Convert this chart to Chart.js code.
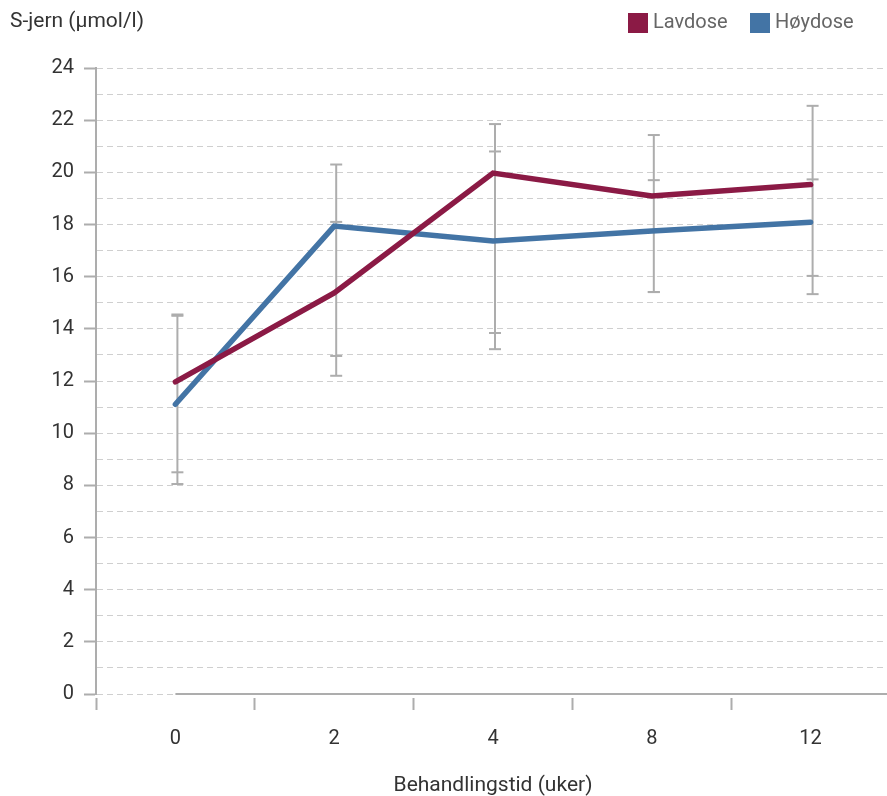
<!DOCTYPE html>
<html>
<head>
<meta charset="utf-8">
<script src="https://cdn.jsdelivr.net/npm/chart.js@4.4.1/dist/chart.umd.min.js"></script>
<style>
  html, body { margin: 0; padding: 0; background: #fff; overflow: hidden; }
  #wrap { position: relative; width: 890px; height: 796px; }
</style>
</head>
<body>
<div id="wrap"><canvas id="chart"></canvas></div>
<script>
const weeks = ["0", "2", "4", "8", "12"];

const lavdose = [11.97, 15.38, 19.97, 19.09, 19.53];
const hoydose = [11.11, 17.94, 17.37, 17.75, 18.09];

// error bar ends
const lavHigh = [14.5, 18.1, 21.85, 21.43, 22.55];
const lavLow = [8.5, 12.96, 13.84, 15.41, 16.03];
const hoyHigh = [14.55, 20.3, 20.8, 19.7, 19.73];
const hoyLow = [8.05, 12.2, 13.22, 15.41, 15.33];

const seriesNames = ["Lavdose", "Høydose"];
const seriesColors = ["#8b1a45", "#4374a5"];

const yTitle = "S-jern (µmol/l)";
const xTitle = "Behandlingstid (uker)";

const fontFamily = "Roboto, 'Open Sans', sans-serif";
const axisGrey = "#adadad";

const extras = {
  id: "extras",
  beforeDatasetsDraw(chart) {
    const { ctx, scales: { x, y }, chartArea } = chart;
    ctx.save();
    // x axis line starts at the first category
    ctx.strokeStyle = axisGrey;
    ctx.lineWidth = 2;
    ctx.beginPath();
    ctx.moveTo(x.getPixelForValue(0), chartArea.bottom);
    ctx.lineTo(chartArea.right, chartArea.bottom);
    ctx.stroke();

    // error bars
    const bars = [[lavLow, lavHigh], [hoyLow, hoyHigh]];
    weeks.forEach((w, i) => {
      const px = x.getPixelForValue(i) + 2;
      const lo = Math.min(lavLow[i], hoyLow[i]);
      const hi = Math.max(lavHigh[i], hoyHigh[i]);
      ctx.beginPath();
      ctx.moveTo(px, y.getPixelForValue(lo));
      ctx.lineTo(px, y.getPixelForValue(hi));
      ctx.stroke();
      bars.forEach(([low, high]) => {
        [low[i], high[i]].forEach(v => {
          const py = y.getPixelForValue(v);
          ctx.beginPath();
          ctx.moveTo(px - 6, py);
          ctx.lineTo(px + 6, py);
          ctx.stroke();
        });
      });
    });
    ctx.restore();
  },
  afterDraw(chart) {
    const { ctx } = chart;
    ctx.save();
    ctx.textBaseline = "middle";
    ctx.textAlign = "left";
    ctx.fillStyle = "#333";
    ctx.font = "21px " + fontFamily;
    ctx.fillText(yTitle, 10, 22);

    // legend
    const boxX = [628, 750];
    ctx.font = "20px " + fontFamily;
    seriesNames.forEach((name, i) => {
      ctx.fillStyle = seriesColors[i];
      ctx.fillRect(boxX[i], 13, 20, 20);
      ctx.fillStyle = "#666";
      ctx.fillText(name, boxX[i] + 25, 23);
    });
    ctx.restore();
  }
};

const makeSet = (i, data) => ({
  label: seriesNames[i],
  data: data,
  borderColor: seriesColors[i],
  backgroundColor: seriesColors[i],
  borderWidth: 5.5,
  borderCapStyle: "round",
  pointRadius: 0,
  tension: 0
});

new Chart(document.getElementById("chart"), {
  type: "line",
  data: {
    labels: weeks,
    datasets: [makeSet(0, lavdose), makeSet(1, hoydose)]
  },
  options: {
    responsive: true,
    maintainAspectRatio: false,
    animation: false,
    layout: { padding: { top: 68, right: 0, left: 0, bottom: 0 } },
    plugins: {
      tooltip: { enabled: false },
      legend: { display: false }
    },
    scales: {
      x: {
        offset: true,
        grid: {
          offset: true,
          drawOnChartArea: false,
          tickLength: 16,
          tickWidth: 2,
          tickColor: axisGrey,
          tickBorderDash: [0, 4, 12, 100]
        },
        border: { display: false },
        ticks: {
          color: "#333",
          padding: 17,
          font: { family: fontFamily, size: 20 }
        },
        title: {
          display: true,
          text: xTitle,
          color: "#333",
          padding: 0,
          font: { family: fontFamily, size: 21, lineHeight: 1 }
        },
        afterFit(scale) { scale.height = 102; }
      },
      y: {
        min: 0,
        max: 24,
        grid: {
          color: "#cfcfcf",
          lineWidth: 1,
          tickLength: 12,
          tickWidth: 2,
          tickColor: ctx => (ctx.tick && ctx.tick.value % 2 === 0 ? axisGrey : "rgba(0,0,0,0)")
        },
        border: { display: true, color: axisGrey, width: 2, dash: [6, 4] },
        ticks: {
          stepSize: 1,
          autoSkip: false,
          color: "#333",
          padding: 10,
          font: { family: fontFamily, size: 20 },
          callback: v => (v % 2 === 0 ? String(v) : "")
        },
        afterFit(scale) { scale.width = 96; }
      }
    }
  },
  plugins: [extras]
});
</script>
</body>
</html>
